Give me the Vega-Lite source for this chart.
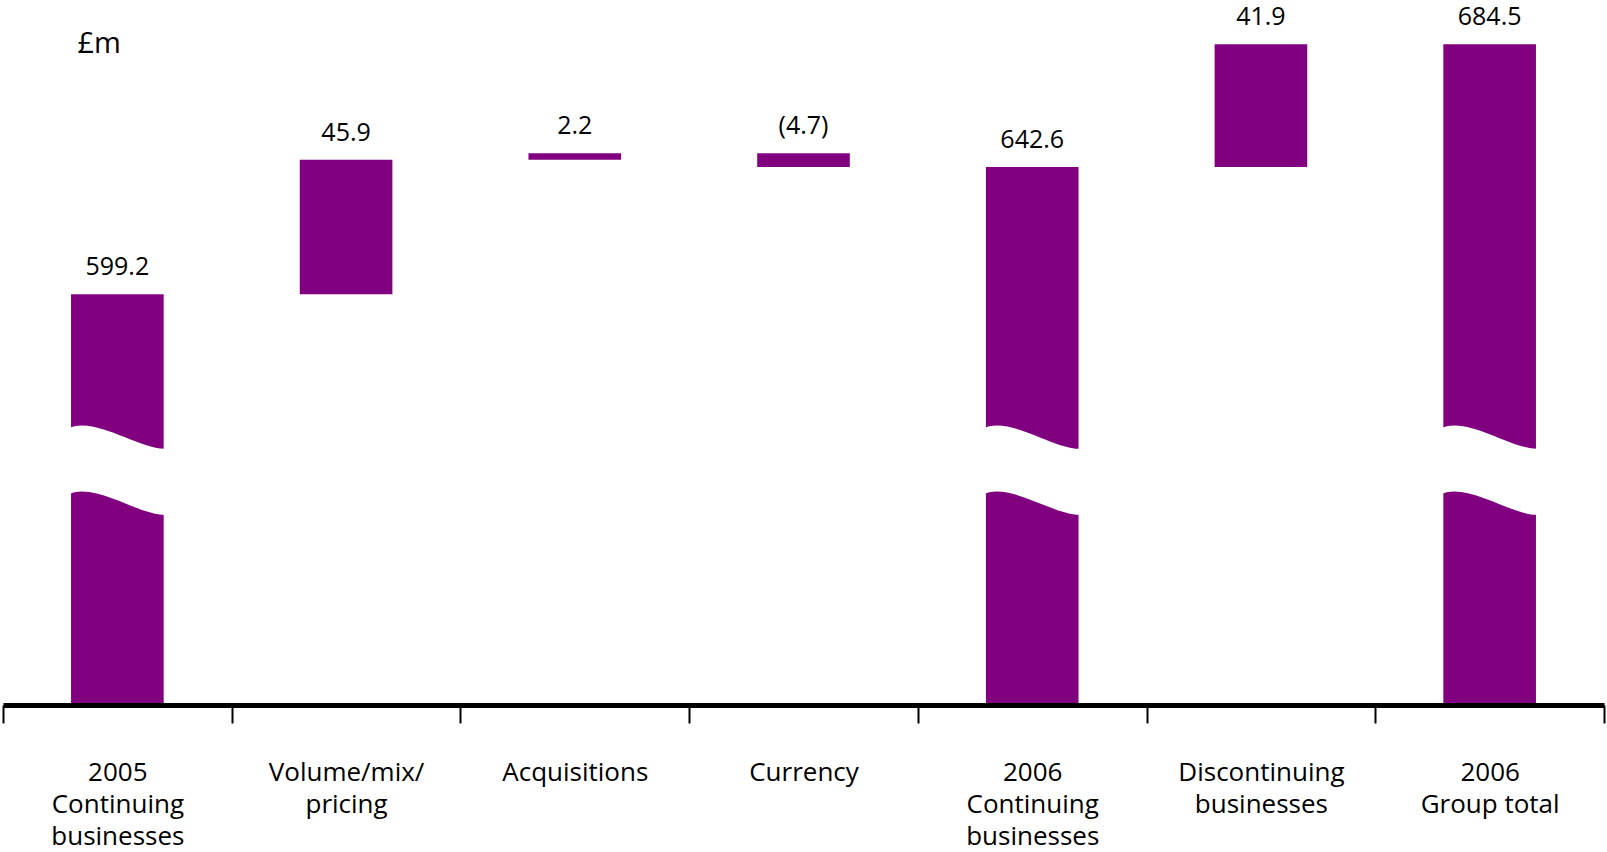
{
  "$schema": "https://vega.github.io/schema/vega-lite/v6.json",
  "autosize": "none",
  "padding": {"left": 3, "top": 0, "right": 3, "bottom": 147},
  "width": 1601,
  "height": 705,
  "background": "white",
  "config": {"view": {"stroke": null}, "font": "Open Sans"},
  "data": {
    "values": [
      {"label": "2005\nContinuing\nbusinesses", "type": "total", "start": 0, "end": 599.2, "text": "599.2"},
      {"label": "Volume/mix/\npricing", "type": "change", "start": 599.2, "end": 645.1, "text": "45.9"},
      {"label": "Acquisitions", "type": "change", "start": 645.1, "end": 647.3, "text": "2.2"},
      {"label": "Currency", "type": "change", "start": 647.3, "end": 642.6, "text": "(4.7)"},
      {"label": "2006\nContinuing\nbusinesses", "type": "total", "start": 0, "end": 642.6, "text": "642.6"},
      {"label": "Discontinuing\nbusinesses", "type": "change", "start": 642.6, "end": 684.5, "text": "41.9"},
      {"label": "2006\nGroup total", "type": "total", "start": 0, "end": 684.5, "text": "684.5"}
    ]
  },
  "transform": [{"calculate": "max(datum.start, datum.end)", "as": "top"}],
  "encoding": {
    "x": {
      "field": "label",
      "type": "nominal",
      "sort": null,
      "scale": {"paddingInner": 0, "paddingOuter": 0},
      "axis": {
        "title": null,
        "labelAngle": 0,
        "labelExpr": "split(datum.label, '\\n')",
        "labelFont": "Open Sans",
        "labelFontSize": 26,
        "labelLineHeight": 32.3,
        "labelColor": "black",
        "labelPadding": 36,
        "labelLimit": 400,
        "tickBand": "extent",
        "tickSize": 18,
        "tickWidth": 2,
        "tickColor": "black",
        "domainColor": "black",
        "domainWidth": 5,
        "zindex": 1,
        "encode": {
          "labels": {
            "dx": {"signal": "indexof(datum.value, 'Volume') === 0 ? -17 : indexof(datum.value, '2005') === 0 ? -5 : datum.value === 'Currency' ? 6 : indexof(datum.value, 'Discontinuing') === 0 ? 3 : indexof(datum.value, 'Group') > 0 ? 6 : 0"}
          }
        }
      }
    }
  },
  "layer": [
    {
      "mark": {"type": "bar", "color": "#800080", "width": {"band": 0.405}},
      "encoding": {
        "y": {
          "field": "end",
          "type": "quantitative",
          "scale": {"domain": [459.0, 699.6], "nice": false, "zero": false, "clamp": true},
          "axis": {
            "title": "£m",
            "domain": false,
            "ticks": false,
            "labels": false,
            "grid": false,
            "titleAngle": 0,
            "titleX": 74,
            "titleY": 52,
            "titleAlign": "left",
            "titleBaseline": "alphabetic",
            "titleFont": "Open Sans",
            "titleFontSize": 29,
            "titleFontWeight": "normal",
            "titleColor": "black"
          }
        },
        "y2": {"field": "start"}
      }
    },
    {
      "transform": [{"filter": "datum.type == 'total'"}],
      "mark": {
        "type": "point",
        "shape": "M -1.08 -0.88 C -0.5 -1.2 0.5 -0.4 1.08 -0.46 L 1.08 0.96 C 0.5 1.02 -0.5 0.22 -1.08 0.54 Z",
        "size": 8649,
        "filled": true,
        "color": "white",
        "opacity": 1,
        "strokeWidth": 0
      },
      "encoding": {
        "y": {"datum": 539.2, "type": "quantitative"}
      }
    },
    {
      "mark": {"type": "text", "baseline": "alphabetic", "dy": -19, "fontSize": 25, "font": "Open Sans", "color": "black"},
      "encoding": {
        "y": {"field": "top", "type": "quantitative"},
        "text": {"field": "text"}
      }
    }
  ]
}
